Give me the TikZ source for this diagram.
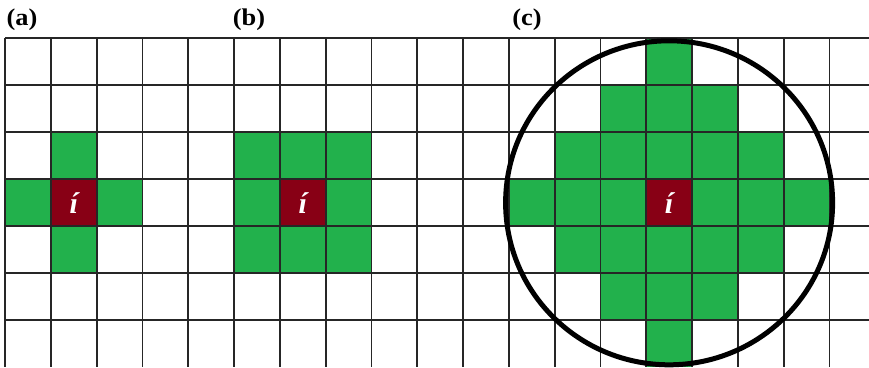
\documentclass[tikz,border=0pt]{standalone}
\usepackage{fontspec}
\setmainfont{Liberation Serif}
\definecolor{cgreen}{RGB}{34,177,76}
\definecolor{cred}{RGB}{136,0,21}
\begin{document}
\begin{tikzpicture}[x=1pt,y=-1pt,
  gridline/.style={line width=1.8pt, draw=black!85},
  ring/.style={line width=5pt, draw=black},
  panellabel/.style={inner sep=0pt, font=\fontsize{24}{24}\selectfont\bfseries, xscale=1.1},
  centrelabel/.style={inner sep=0pt, text=white, font=\fontsize{30}{30}\selectfont\bfseries\itshape}]
\useasboundingbox (0,0) rectangle (869,367);
\def\cw{45.8}\def\ch{47}\def\ox{5}\def\oy{38.3}
\newcommand\fillcell[3]{\fill[#3] ({\ox+#1*\cw},{\oy+#2*\ch}) rectangle ++(\cw,\ch);}
% panel (a)
\fillcell{1}{2}{cgreen}\fillcell{0}{3}{cgreen}\fillcell{2}{3}{cgreen}\fillcell{1}{4}{cgreen}
\fillcell{1}{3}{cred}
% panel (b)
\foreach \c in {5,6,7}{\foreach \r in {2,3,4}{\fillcell{\c}{\r}{cgreen}}}
\fillcell{6}{3}{cred}
% panel (c)
\fillcell{14}{0}{cgreen}
\foreach \c in {13,14,15}{\fillcell{\c}{1}{cgreen}\fillcell{\c}{5}{cgreen}}
\foreach \c in {12,...,16}{\fillcell{\c}{2}{cgreen}\fillcell{\c}{4}{cgreen}}
\foreach \c in {11,...,17}{\fillcell{\c}{3}{cgreen}}
\fillcell{14}{6}{cgreen}
\fillcell{14}{3}{cred}
% grid
\foreach \k in {0,...,18}{\draw[gridline] ({\ox+\k*\cw},\oy) -- ({\ox+\k*\cw},367);}
\foreach \j in {0,...,6}{\draw[gridline] (\ox,{\oy+\j*\ch}) -- (869,{\oy+\j*\ch});}
% circle
\draw[ring] ({\ox+14.5*\cw},{\oy+3.5*\ch}) ellipse [x radius=163.5, y radius=162];
% labels
\node[panellabel] (la) at (22,20) {(a)};
\node[panellabel] (lb) at (249,20) {(b)};
\node[panellabel] (lc) at (527,20) {(c)};
\node[centrelabel] (ia) at ({\ox+1.5*\cw},{\oy+3.5*\ch}) {í};
\node[centrelabel] (ib) at ({\ox+6.5*\cw},{\oy+3.5*\ch}) {í};
\node[centrelabel] (ic) at ({\ox+14.5*\cw},{\oy+3.5*\ch}) {í};
\end{tikzpicture}
\end{document}
